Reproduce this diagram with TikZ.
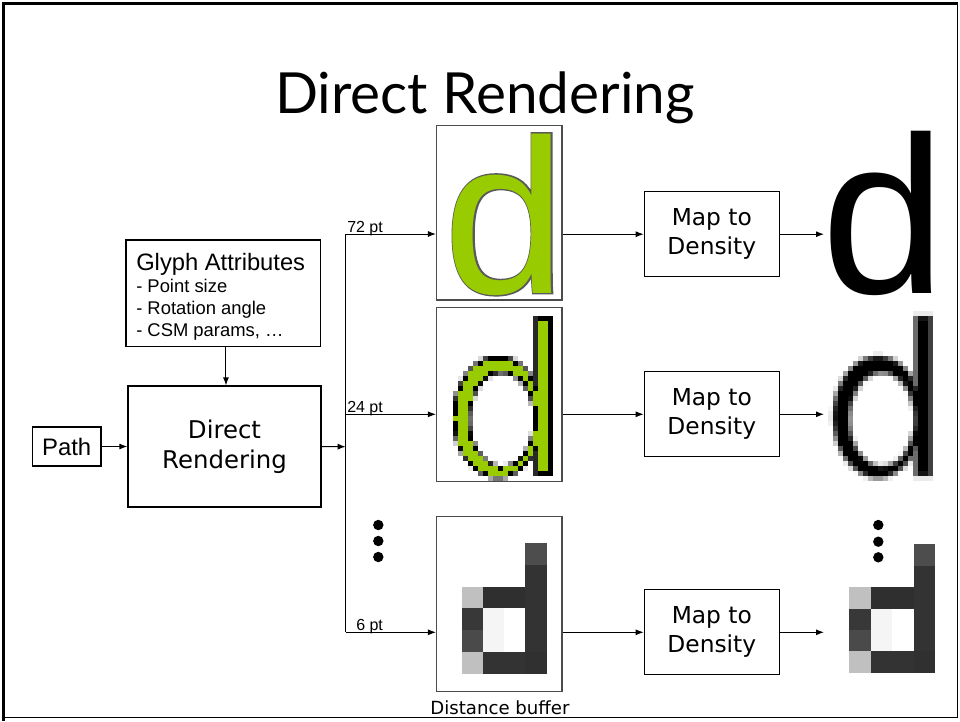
\documentclass[tikz,border=0pt]{standalone}
\usepackage{fontspec}
\setmainfont{Liberation Sans}
\newfontfamily\verdfont{DejaVu Sans}
\newfontfamily\headfont{Lato}
\newfontfamily\glyphfont{Liberation Sans}
\newfontfamily\glyphrim[FakeBold=1.3]{Liberation Sans}
\usetikzlibrary{arrows.meta}

\definecolor{leaf}{HTML}{99CC00}
\newdimen\px \px=0.75pt

% signed distance (px, positive inside) of a sans-serif "d" that is 160px tall;
% result in \dSd, for the point (#1,#2) measured from the letter's top-left corner
\newcommand\dshape[2]{%
  \edef\dOx{\fpeval{((#1)-45)/45}}%
  \edef\dOy{\fpeval{((#2)-101)/61}}%
  \edef\dSo{\fpeval{-((\dOx)*(\dOx)+(\dOy)*(\dOy)-1)/(2*sqrt(((\dOx)/45)^2+((\dOy)/61)^2)+0.0001)}}%
  \edef\dIx{\fpeval{((#1)-49)/32}}%
  \edef\dIy{\fpeval{((#2)-103.5)/46.5}}%
  \edef\dSi{\fpeval{-((\dIx)*(\dIx)+(\dIy)*(\dIy)-1)/(2*sqrt(((\dIx)/32)^2+((\dIy)/46.5)^2)+0.0001)}}%
  \edef\dSd{\fpeval{max(min(\dSo,-(\dSi)),min((#1)-82,99-(#1),(#2),160-(#2)))}}%
}

\tikzset{
  box/.style={draw, line width=0.9pt, inner sep=0pt},
  imgbox/.style={draw=black!70, line width=0.9pt, fill=white,
    minimum width=125.5\px, minimum height=174.5\px, inner sep=0pt},
  mapbox/.style={box, minimum width=135\px, minimum height=85\px, align=center,
    font=\verdfont\fontsize{17.5}{21.75}\selectfont},
  arr/.style={-{Latex[length=6pt,width=4.5pt]}, line width=0.75pt},
  wire/.style={line width=0.75pt},
  lbl/.style={inner sep=0pt, font=\fontsize{12}{14}\selectfont},
  gatext/.style={inner sep=0pt, anchor=base west},
}

\begin{document}
\begin{tikzpicture}[x=0.75pt, y=-0.75pt]
\useasboundingbox (0,0) rectangle (960,721);

% slide frame
\draw[line width=2.5pt] (3.3,721) -- (3.3,3.3) -- (957.7,3.3);
\draw[line width=1.1pt] (957.7,3.3) -- (957.7,717.7) -- (3.3,717.7);

% title
\node[anchor=base, inner sep=0pt] (title) at (485,113)
  {\headfont\fontsize{42.5}{50}\selectfont Direct Rendering};

% input side
\node[box, minimum width=68.7\px, minimum height=39\px,
  font=\fontsize{17.9}{20}\selectfont] (pathbox) at (66.7,446.5) {Path};
\node[box, minimum width=194.7\px, minimum height=106.7\px] (ga) at (223.3,293.3) {};
\node[gatext, font=\fontsize{17.8}{20}\selectfont] (gahead) at (136,270) {Glyph Attributes};
\node[gatext, font=\fontsize{13.8}{16}\selectfont] (ga1) at (136,292) {- Point size};
\node[gatext, font=\fontsize{13.8}{16}\selectfont] (ga2) at (136,314) {- Rotation angle};
\node[gatext, font=\fontsize{13.8}{16}\selectfont] (ga3) at (136,336) {- CSM params, \dots};
\node[box, minimum width=193\px, minimum height=121\px, align=center,
  font=\verdfont\fontsize{18.3}{22.5}\selectfont] (dr) at (224.5,446.5) {Direct\\Rendering};

\draw[arr] (pathbox.east) -- (dr.west);
\draw[arr] ([xshift=2]ga.south) -- ([xshift=2]ga.south |- dr.north);

% distribution bus
\coordinate (busin) at (345.7,446.7);
\coordinate (bus72) at (345.7,234);
\coordinate (bus24) at (345.7,414.3);
\coordinate (bus6) at (345.7,632.3);
\draw[arr] (dr.east) -- (busin);
\draw[wire] (bus72) -- (bus6);

% rendered glyph buffers
\node[imgbox] (img1) at (499.3,212.8) {};
\node[imgbox] (img2) at (499.3,394.5) {};
\node[imgbox, minimum height=175\px] (img3) at (499.3,604.2) {};

\draw[arr] (bus72) -- (bus72 -| img1.west);
\draw[arr] (bus24) -- (bus24 -| img2.west);
\draw[arr] (bus6) -- (bus6 -| img3.west);
\node[lbl, anchor=base west] (l72) at (347,232) {72 pt};
\node[lbl, anchor=base west] (l24) at (347,412.3) {24 pt};
\node[lbl, anchor=base west] (l6) at (356,630.3) {6 pt};

\foreach \yy in {525,541,557} \fill (378.3,\yy) circle (5.2);

% 72 pt: outline glyph with a thin dark rim
\node[inner sep=0pt, anchor=base west, text=black!65] (g72rim) at (443.5,293)
  {\glyphrim\fontsize{165}{165}\selectfont d};
\node[inner sep=0pt, anchor=base west, text=leaf] (g72) at (443.5,293)
  {\glyphfont\fontsize{165}{165}\selectfont d};

% 24 pt: pixel grids (buffer and density result)
\foreach \i in {-2,...,21}{
  \foreach \j in {-2,...,33}{
    \edef\cX{\fpeval{5*\i+2.5}}%
    \edef\cY{\fpeval{5*\j+2.5}}%
    \dshape{\cX}{\cY}%
    \edef\cvR{\fpeval{round(100*max(0,min(1,0.5+(\dSd)/6)))}}%
    \edef\cvM{\fpeval{round(max(0,min(100,140*(0.5+(\dSd)/5))))}}%
    \edef\mX{\fpeval{453+5*\i}}%
    \edef\rX{\fpeval{833+5*\i}}%
    \edef\gY{\fpeval{315.5+5*\j}}%
    \ifnum\cvR>1
      \fill[black!\cvR] (\rX,\gY) rectangle ++(5.25,5.25);
    \fi
    \ifnum\fpeval{\dSd>2.5}=1
      \fill[leaf] (\mX,\gY) rectangle ++(5.25,5.25);
    \else
      \ifnum\cvM>1
        \fill[black!\cvM] (\mX,\gY) rectangle ++(5.25,5.25);
      \fi
    \fi
  }
}

% 6 pt: coarse grids
\foreach \r/\c/\g in {0/3/4D4D4D, 1/3/333333, 2/0/C0C0C0, 2/1/2F2F2F, 2/2/2F2F2F,
  2/3/333333, 3/0/383838, 3/1/F5F5F5, 3/2/FFFFFF, 3/3/333333, 4/0/4A4A4A,
  4/1/F5F5F5, 4/2/FFFFFF, 4/3/333333, 5/0/C0C0C0, 5/1/333333, 5/2/333333, 5/3/303030}{
  \definecolor{cellc}{HTML}{\g}
  \fill[cellc] (461.7+21.25*\c,543.3+21.67*\r) rectangle ++(21.45,21.87);
  \fill[cellc] (849.3+21.4*\c,544.3+21.4*\r) rectangle ++(21.6,21.6);
}

\node[anchor=base, inner sep=0pt] (dbuf) at (500,714.5)
  {\verdfont\fontsize{13.6}{16}\selectfont Distance buffer};

% density mapping
\node[mapbox] (map1) at (711.8,234.2) {Map to\\Density};
\node[mapbox] (map2) at (711.8,414.3) {Map to\\Density};
\node[mapbox] (map3) at (711.8,632.3) {Map to\\Density};

\draw[arr] (img1.east |- map1.west) -- (map1.west);
\draw[arr] (img2.east |- map2.west) -- (map2.west);
\draw[arr] (img3.east |- map3.west) -- (map3.west);

\coordinate (out1) at (824,234.2);
\coordinate (out2) at (824,414.3);
\coordinate (out3) at (824,632.3);
\draw[arr] (map1.east) -- (out1);
\draw[arr] (map2.east) -- (out2);
\draw[arr] (map3.east) -- (out3);

% final densities
\node[inner sep=0pt, anchor=base west] (d72) at (821.5,293)
  {\glyphfont\fontsize{168}{168}\selectfont d};
\foreach \yy in {525,541.7,557.3} \fill (878.3,\yy) circle (5.2);
\end{tikzpicture}
\end{document}
